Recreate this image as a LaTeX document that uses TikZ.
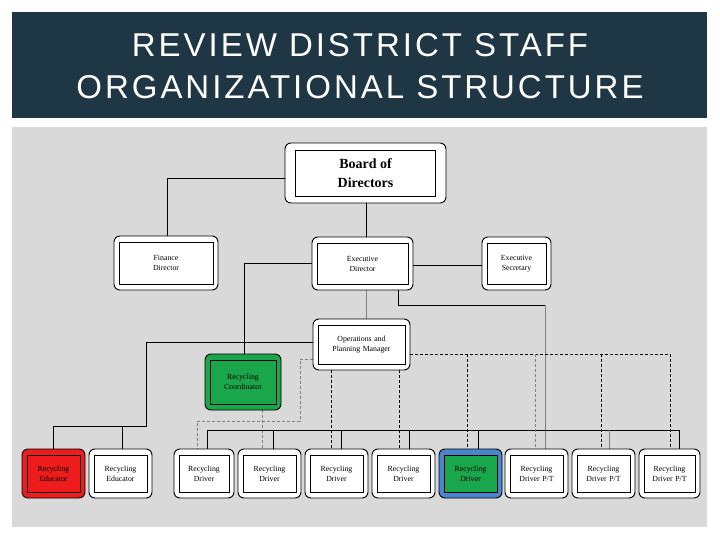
\documentclass[tikz,border=0pt]{standalone}
\usepackage{fontspec}
\setmainfont{Liberation Serif}
\newfontfamily\titlefont[LetterSpace=9]{Liberation Sans}
\definecolor{titlebg}{HTML}{1F3644}
\definecolor{panel}{HTML}{D9D9D9}
\definecolor{cgreen}{HTML}{1AA64A}
\definecolor{cred}{HTML}{EE1C1C}
\definecolor{cblue}{HTML}{4A86D0}
\tikzset{
 outerbox/.style={draw=black,line width=0.9pt,rounded corners=6pt,inner sep=0pt},
 innerbox/.style={draw=black,line width=0.7pt,inner sep=0pt,align=center,font=\fontsize{7.8}{10}\selectfont},
 ln/.style={black,line width=0.9pt},
 gln/.style={gray,line width=0.9pt},
 dln/.style={black,line width=0.9pt,dashed,dash pattern=on 3pt off 2pt},
 gdln/.style={gray,line width=0.9pt,dash pattern=on 3pt off 2pt},
}
% name, cx, cy, w, h, text, outer fill, inner fill
\newcommand{\obox}[8]{%
 \node[outerbox,fill=#7,minimum width=#4pt,minimum height=#5pt] (#1) at (#2,#3) {};
 \node[innerbox,fill=#8,minimum width=#4pt-10pt,minimum height=#5pt-12pt,text width=#4pt-12pt] (#1-i) at (#2,#3) {#6};}
\begin{document}
\begin{tikzpicture}[x=1pt,y=-1pt]
\useasboundingbox (0,0) rectangle (720,540);
\fill[white] (0,0) rectangle (720,540);
\fill[titlebg] (12,12) rectangle (707,118);
\node[text=white,font=\titlefont\fontsize{33}{42}\selectfont,align=center] (title) at (360,66) {REVIEW DISTRICT STAFF\\ORGANIZATIONAL STRUCTURE};
\fill[panel] (12,127) rectangle (707,527);
% connectors first
\coordinate (f1) at (167,178);
\coordinate (e1) at (244,263);
\coordinate (e2) at (398,305);
\coordinate (e3) at (545,305);
\coordinate (o1) at (146,342);
\coordinate (o2) at (146,426);
\coordinate (o3) at (53,426);
\coordinate (o4) at (122,426);
\coordinate (c1) at (300,359);
\coordinate (c2) at (300,421);
\coordinate (c3) at (197,421);
\coordinate (b1) at (207,430);
\coordinate (b2) at (679,430);
\coordinate (d1) at (410,354);
\coordinate (d2) at (670,354);
\draw[ln] (285,178) -- (f1) -- (167,236);
\draw[ln] (366,203) -- (366,237);
\draw[ln] (413,265) -- (482,265);
\draw[ln] (312,263) -- (e1) -- (244,354);
\draw[gln] (366,290) -- (366,319);
\draw[ln] (398,290) -- (e2) -- (e3);
\draw[gln] (e3) -- (545,449);
\draw[ln] (313,342) -- (o1) -- (o2) -- (o3) -- (53,449);
\draw[ln] (o4) -- (122,449);
\draw[gdln] (313,359) -- (c1) -- (c2) -- (c3) -- (197,449);
\draw[gdln] (262,410) -- (262,449);
\draw[ln] (b1) -- (b2) -- (679,449);
\foreach \x in {207,273,341,409,478} \draw[ln] (\x,430) -- (\x,449);
\draw[gln] (609,430) -- (609,449);
\draw[dln] (331,370) -- (331,449);
\draw[dln] (399,370) -- (399,449);
\draw[dln] (d1) -- (d2) -- (670,449);
\draw[dln] (467,354) -- (467,449);
\draw[gdln] (535,354) -- (535,449);
\draw[dln] (601,354) -- (601,449);
% nodes
\node[outerbox,fill=white,minimum width=161pt,minimum height=60pt] (board) at (365.5,173) {};
\node[innerbox,fill=white,minimum width=140pt,minimum height=46pt,font=\bfseries\fontsize{14}{19}\selectfont] (board-i) at (365.5,173) {Board of\\Directors};
\obox{fin}{166}{263}{104}{54}{Finance\\Director}{white}{white}
\obox{exec}{362.5}{263.5}{101}{53}{Executive\\Director}{white}{white}
\obox{sec}{516.5}{263.5}{69}{53}{Executive\\Secretary}{white}{white}
\obox{ops}{361.5}{344.5}{97}{51}{Operations and\\Planning Manager}{white}{white}
\obox{coord}{243}{382}{76}{56}{Recycling\\Coordinator}{cgreen}{cgreen}
\obox{ed1}{53.5}{473.5}{63}{49}{Recycling\\Educator}{cred}{cred}
\obox{ed2}{120.5}{473.5}{63}{49}{Recycling\\Educator}{white}{white}
\obox{dr1}{204}{473.5}{60}{49}{Recycling\\Driver}{white}{white}
\obox{dr2}{269.5}{473.5}{63}{49}{Recycling\\Driver}{white}{white}
\obox{dr3}{336.5}{473.5}{63}{49}{Recycling\\Driver}{white}{white}
\obox{dr4}{403.5}{473.5}{63}{49}{Recycling\\Driver}{white}{white}
\obox{dr5}{470.5}{473.5}{63}{49}{Recycling\\Driver}{cblue}{cgreen}
\obox{pt1}{536.5}{473.5}{63}{49}{Recycling\\Driver P/T}{white}{white}
\obox{pt2}{603.5}{473.5}{63}{49}{Recycling\\Driver P/T}{white}{white}
\obox{pt3}{669.5}{473.5}{61}{49}{Recycling\\Driver P/T}{white}{white}
\end{tikzpicture}
\end{document}
